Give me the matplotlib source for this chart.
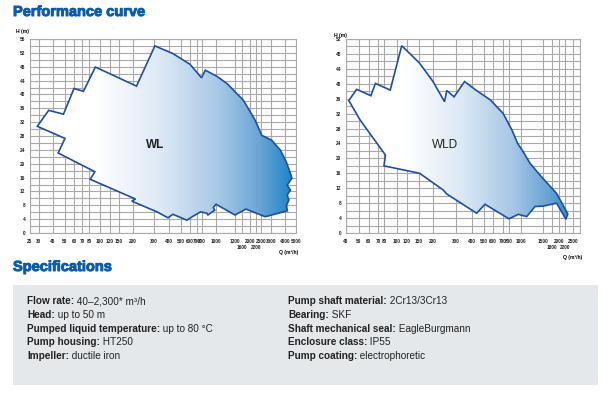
import numpy as np
import matplotlib
matplotlib.use("Agg")
import matplotlib.pyplot as plt
import matplotlib.patheffects as pe
from matplotlib.patches import Polygon, Rectangle
from matplotlib.colors import LinearSegmentedColormap

plt.rcParams['font.family'] = ['Liberation Sans', 'DejaVu Sans']

# WL envelope (Q in m3/h, H in m), traced clockwise from the left tip
wl_q = [29, 36.6, 48.6, 60, 72, 91, 214, 305, 430, 600, 790, 843, 1010, 1113,
        1665, 2167, 2535, 3035, 3640, 4110, 4520, 4600, 4180, 4470, 4180, 4330,
        4120, 4200, 2700, 1785, 1200, 1000, 958, 980, 880, 865, 770, 630, 563,
        430, 392, 318, 195, 210, 82, 90, 44, 50]
wl_h = [30.8, 35.4, 34.3, 41.7, 40.9, 47.9, 42.4, 54.0, 51.8, 48.7, 44.8, 47.0,
        45.2, 43.1, 38.3, 32.6, 28.2, 26.8, 23.9, 20.5, 16.7, 15.8, 13.8, 12.4,
        11.0, 9.5, 8.0, 6.4, 4.7, 6.9, 5.2, 8.3, 7.4, 6.6, 5.2, 5.7, 6.1, 4.7,
        3.7, 5.4, 4.4, 6.1, 9.2, 9.8, 15.5, 17.7, 23.1, 27.3]

# WLD envelope
wld_q = [42, 48, 62, 67, 89, 109, 152, 200, 245, 255, 290, 350, 430, 567, 700,
         845, 940, 1040, 1180, 1420, 1930, 2300, 2230, 1930, 1500, 1294, 1111,
         951, 800, 510, 436, 254, 240, 152, 80, 82, 51]
wld_h = [35.5, 38.5, 36.8, 40.1, 38.3, 50.2, 45.5, 40.6, 35.2, 38.2, 36.5, 40.6,
         38.3, 35.7, 32.1, 27.6, 24.0, 21.8, 18.7, 15.5, 10.6, 5.1, 3.7, 8.0,
         7.2, 7.1, 4.4, 5.0, 3.8, 7.7, 5.3, 10.5, 11.5, 16.0, 18.0, 20.9, 30.3]

# x tick values of the two (non-uniform) flow axes
wl_ticks = [25, 30, 40, 50, 60, 70, 80, 100, 120, 150, 200, 300, 400, 500, 600,
            700, 800, 1000, 1200, 1600, 2000, 2200, 2500, 3000, 4000, 5000]
wl_second_row = [1600, 2200]
wld_ticks = [40, 50, 60, 70, 80, 100, 120, 150, 200, 300, 400, 500, 600, 700,
             800, 1000, 1500, 1800, 2000, 2200, 2500]
wld_second_row = [1800, 2200]

specs_left = [("Flow rate:", "40\u20132,300* m\u00b3/h"),
              ("Head:", "up to 50 m"),
              ("Pumped liquid temperature:", "up to 80 \u00b0C"),
              ("Pump housing:", "HT250"),
              ("Impeller:", "ductile iron")]
specs_right = [("Pump shaft material:", "2Cr13/3Cr13"),
               ("Bearing:", "SKF"),
               ("Shaft mechanical seal:", "EagleBurgmann"),
               ("Enclosure class:", "IP55"),
               ("Pump coating:", "electrophoretic")]

# horizontal pixel position of each tick on the printed axes (layout only)
WL_AXIS_PX = [30, 39, 53, 65, 74, 82, 89, 100, 110, 119, 133, 154, 169, 181, 190,
              197, 202, 216, 235, 242, 250, 256, 261, 271, 285, 296]
WLD_AXIS_PX = [346, 359, 369, 378, 384, 397, 407, 419, 433, 456, 472, 484, 493,
               503, 509, 521, 543, 552, 559, 565, 573]
WLD_XMAX = 2830  # flow value at the right frame (x = 580 px)

W, H = 613, 394
BLUE_TXT = '#0b5cad'
LINE = '#1f4f9e'
GRID = '#a9a9a9'
TICK_FONT = ['Liberation Sans Narrow', 'Liberation Sans', 'DejaVu Sans']
FILL = LinearSegmentedColormap.from_list(
    'fill', [(0, '#ffffff'), (0.25, '#ffffff'), (0.5, '#dbe8f5'),
             (0.72, '#a4c6e5'), (0.87, '#67a3d4'), (1.0, '#1382c5')])


def flow_scale(vals, px):
    lv = np.log10(vals)
    p = np.asarray(px, float)

    def fwd(x):
        x = np.clip(np.asarray(x, float), 1e-6, None)
        return np.interp(np.log10(x), lv, p)

    def inv(y):
        return 10 ** np.interp(y, p, lv)
    return fwd, inv


def setup_axes(rect_px, ticks, second, scale_vals, scale_px, xmax, ymax):
    l, r, t, b = rect_px
    ax = fig.add_axes([l / W, 1 - b / H, (r - l) / W, (b - t) / H])
    ax.set_xscale('function', functions=flow_scale(scale_vals, scale_px))
    ax.set_xlim(ticks[0], xmax)
    ax.set_ylim(0, ymax)
    first = [v for v in ticks if v not in second]
    # first-row labels as major ticks, second-row labels as minor ticks
    ax.set_xticks(first)
    ax.set_xticklabels([str(v) for v in first])
    ax.set_xticks(second, minor=True)
    ax.set_xticklabels([str(v) for v in second], minor=True)
    ax.set_yticks(np.arange(0, ymax + 1, 4))
    ax.set_yticks(np.arange(0, ymax + 1, 2), minor=True)
    ax.tick_params(which='both', length=0, labelsize=3.4, colors='#222222')
    ax.tick_params(axis='x', which='major', pad=4)
    ax.tick_params(axis='x', which='minor', pad=8.5)
    ax.tick_params(axis='y', pad=3.5)
    labels = (ax.get_xticklabels() + ax.get_xticklabels(minor=True)
              + ax.get_yticklabels())
    for lab in labels:
        lab.set_fontweight('bold')
        lab.set_family(TICK_FONT)
    ax.grid(True, which='both', color=GRID, lw=0.8)
    ax.set_axisbelow(True)
    for s in ax.spines.values():
        s.set_color(GRID)
        s.set_linewidth(0.8)
    return ax


def draw_envelope(ax, q, h):
    poly = Polygon(np.column_stack([q, h]), closed=True, facecolor='none',
                   edgecolor=LINE, lw=1.2, zorder=3, joinstyle='miter')
    ax.add_patch(poly)
    grad = np.linspace(0, 1, 256).reshape(1, -1)
    im = ax.imshow(grad, cmap=FILL, extent=(0, 1, 0, 1), transform=ax.transAxes,
                   aspect='auto', zorder=2, interpolation='bilinear')
    im.set_clip_path(poly)


fig = plt.figure(figsize=(W / 100, H / 100), dpi=100)

bg = fig.add_axes([0, 0, 1, 1], zorder=-1)
bg.set_xlim(0, W)
bg.set_ylim(H, 0)
bg.axis('off')

ax1 = setup_axes((30, 296, 39, 233), wl_ticks, wl_second_row,
                 wl_ticks, WL_AXIS_PX, wl_ticks[-1], 56)
draw_envelope(ax1, wl_q, wl_h)
ax1.set_xlim(wl_ticks[0], wl_ticks[-1])
ax1.set_ylim(0, 56)
ax1.text(0.47, 0.455, 'WL', transform=ax1.transAxes, ha='center', va='center',
         fontsize=8.5, fontweight='bold', color='#222222', zorder=4)

ax2 = setup_axes((346, 580, 39, 233), wld_ticks, wld_second_row,
                 wld_ticks + [WLD_XMAX], WLD_AXIS_PX + [580], WLD_XMAX, 52)
draw_envelope(ax2, wld_q, wld_h)
ax2.set_xlim(wld_ticks[0], WLD_XMAX)
ax2.set_ylim(0, 52)
ax2.text(0.425, 0.455, 'WLD', transform=ax2.transAxes, ha='center', va='center',
         fontsize=8.5, color='#222222', zorder=4)

# axis captions
cap = dict(fontsize=3.6, fontweight='bold', ha='center', va='center', family=TICK_FONT)
bg.text(22, 31, 'H (m)', **cap)
bg.text(340, 35, 'H (m)', **cap)
bg.text(289, 252, 'Q (m\u00b3/h)', **cap)
bg.text(573, 257, 'Q (m\u00b3/h)', **cap)

# headings
heavy = [pe.withStroke(linewidth=0.7, foreground=BLUE_TXT)]
bg.text(13, 12, 'Performance curve', fontsize=10.5, fontweight='bold',
        color=BLUE_TXT, va='center', ha='left', path_effects=heavy)
bg.text(13, 267, 'Specifications', fontsize=10.5, fontweight='bold',
        color=BLUE_TXT, va='center', ha='left', path_effects=heavy)

# spec box
bg.add_patch(Rectangle((13, 285), 585, 100, facecolor='#e5e8eb', edgecolor='none'))
row_y = [301, 315, 329, 342, 356]
for col_x, rows in ((27, specs_left), (288, specs_right)):
    for y, (key, val) in zip(row_y, rows):
        t = bg.text(col_x, y, key, fontsize=7.2, fontweight='bold',
                    color='#222222', va='center', ha='left')
        bg.annotate(' ' + val, xy=(1, 0), xycoords=t, fontsize=7.2,
                    color='#222222', va='bottom', ha='left')

fig.savefig('out.png', dpi=100)
